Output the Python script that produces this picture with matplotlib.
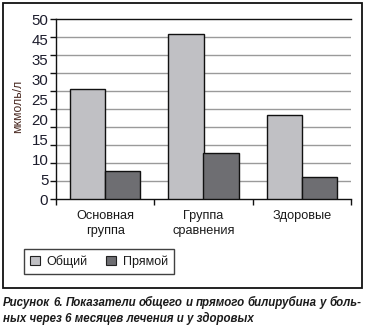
import matplotlib
matplotlib.use("Agg")
import matplotlib.pyplot as plt
from matplotlib.patches import Rectangle, Patch
import numpy as np

# Bilirubin levels, µmol/L
categories = ["Основная\nгруппа", "Группа\nсравнения", "Здоровые"]
series_names = ["Общий", "Прямой"]
total_vals = [30.6, 45.8, 23.3]
direct_vals = [8.0, 12.8, 6.1]
ytick_labels = ["0", "5", "10", "15", "20", "25", "30", "35", "45", "50"]
caption_lines = ["Рисунок 6. Показатели общего и прямого билирубина у боль-",
                 "ных через 6 месяцев лечения и у здоровых"]

W, H = 367, 329
fig = plt.figure(figsize=(W / 100, H / 100), dpi=100)
fig.patch.set_facecolor("white")

ax = fig.add_axes([56 / W, 1 - 199.3 / H, 295 / W, 180 / H])

light = "#c0c0c4"
dark = "#6e6e72"
x = np.arange(len(categories))
bw = 0.356
ax.bar(x - bw / 2, total_vals, bw, color=light, edgecolor="#111111", linewidth=1.0, zorder=3)
ax.bar(x + bw / 2, direct_vals, bw, color=dark, edgecolor="#111111", linewidth=1.0, zorder=3)

ax.set_xlim(-0.5, len(categories) - 0.5)
ax.set_ylim(0, 50)

# gridlines every 5, the top one drawn dark
for v in np.arange(5, 50, 5):
    ax.axhline(v, color="#9a9a9a", linewidth=1.0, zorder=1)
ax.axhline(50, color="#111111", linewidth=1.0, zorder=2, clip_on=False)

for s in ["top", "right"]:
    ax.spines[s].set_visible(False)
for s in ["left", "bottom"]:
    ax.spines[s].set_color("#111111")
    ax.spines[s].set_linewidth(1.0)

ax.yaxis.remove_overlapping_locs = False
ax.xaxis.remove_overlapping_locs = False

# y axis: marks at every 5, labels evenly spread along the axis
ax.set_yticks(np.arange(0, 51, 5))
ax.set_yticklabels([])
ax.tick_params(axis="y", which="major", length=4, width=1, color="#111111", direction="out")
ax.set_yticks(np.linspace(0, 50, len(ytick_labels)), minor=True)
ax.set_yticklabels(ytick_labels, minor=True, fontsize=10.8,
                   family="Liberation Sans", color="#1c1c2c")
ax.tick_params(axis="y", which="minor", length=0, pad=5.5)

# x axis: marks at category boundaries, labels at centres
ax.set_xticks(np.arange(-0.5, len(categories), 1.0))
ax.set_xticklabels([])
ax.tick_params(axis="x", which="major", length=4, width=1, color="#111111", direction="out")
ax.set_xticks(x, minor=True)
ax.set_xticklabels(categories, minor=True, fontsize=9.2, family="Liberation Sans",
                   color="#1a1a1a", linespacing=1.4)
ax.tick_params(axis="x", which="minor", length=0, pad=7.5)

fig.text(18 / W, 1 - 106 / H, "мкмоль/л", rotation=90, ha="center", va="center",
         fontsize=8.8, family="Liberation Sans", color="#4a2a22")

handles = [Patch(facecolor=light, edgecolor="#222222", linewidth=0.8),
           Patch(facecolor=dark, edgecolor="#222222", linewidth=0.8)]
leg = fig.legend(handles, series_names, loc="upper left",
                 bbox_to_anchor=(24 / W, 1 - 248.5 / H), bbox_transform=fig.transFigure,
                 ncol=2, fancybox=False, frameon=True, borderaxespad=0,
                 prop={"family": "Liberation Sans", "size": 9.0},
                 handlelength=0.8, handleheight=0.8, handletextpad=0.5,
                 columnspacing=1.5, borderpad=0.5)
leg.get_frame().set_edgecolor("#111111")
leg.get_frame().set_linewidth(1.0)
for t in leg.get_texts():
    t.set_color("#1a1a1a")

# outer frame around the chart area
fig.patches.append(Rectangle((3 / W, 1 - 288 / H), 359 / W, 285 / H,
                             transform=fig.transFigure, fill=False,
                             edgecolor="#111111", linewidth=1.3))

# caption: first line justified to the frame width, second line left-aligned
cap_style = dict(fontsize=8.3, family="Liberation Sans", weight="bold",
                 style="italic", color="#1a1a1a", va="baseline", ha="left")
renderer = fig.canvas.get_renderer()
words = caption_lines[0].split(" ")
objs = [fig.text(0, 1 - 306 / H, w_, **cap_style) for w_ in words]
widths = [o.get_window_extent(renderer).width for o in objs]
left, right = 3.0, 361.0
gap = (right - left - sum(widths)) / (len(words) - 1)
pos = left
for o, wd in zip(objs, widths):
    o.set_x(pos / W)
    pos += wd + gap
fig.text(left / W, 1 - 322 / H, caption_lines[1], **cap_style)

fig.savefig("out.png", dpi=100)
